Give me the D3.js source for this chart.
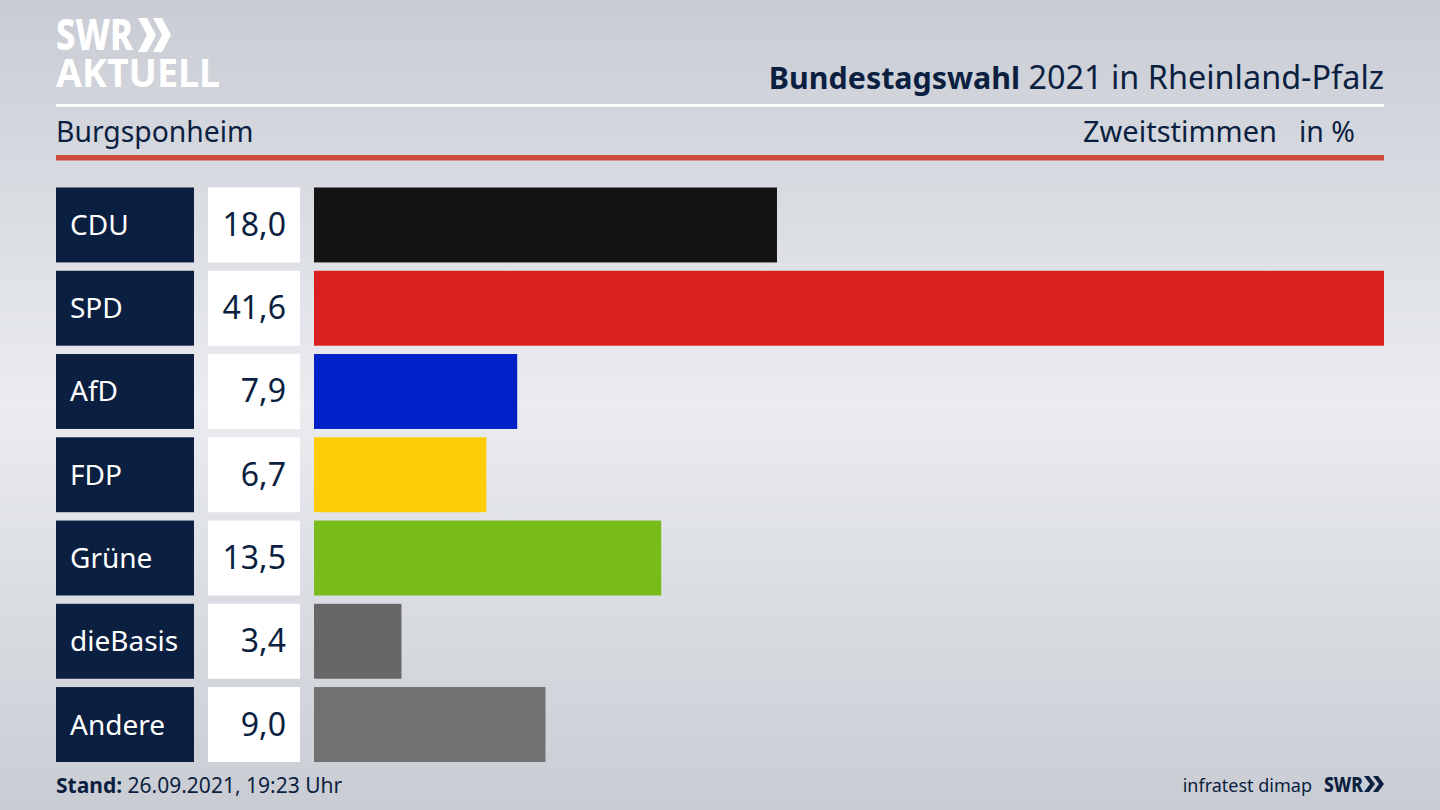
<!DOCTYPE html>
<html><head><meta charset="utf-8">
<script src="https://cdn.jsdelivr.net/npm/d3@7/dist/d3.min.js"></script>
<style>html,body{margin:0;padding:0;background:#dfe1e6;overflow:hidden}text{font-family:"Noto Sans","Open Sans",sans-serif}</style>
</head><body><svg id="c" width="1440" height="810"></svg>
<script>
const categories=["CDU","SPD","AfD","FDP","Grüne","dieBasis","Andere"];
const values=[18.0,41.6,7.9,6.7,13.5,3.4,9.0];
const colors=["#141414","#d9201f","#0021c8","#ffcc08","#78bc1b","#676767","#717172"];
const navy="#0b1f41";
const fmt=v=>v.toFixed(1).replace(".",",");
const svg=d3.select("#c");
const defs=svg.append("defs");
const g=defs.append("linearGradient").attr("id","bg").attr("x1",0).attr("y1",0).attr("x2",0).attr("y2",1);
[[0,"#c9ccd4"],[0.5,"#eaecf0"],[1,"#c9ccd3"]].forEach(s=>g.append("stop").attr("offset",s[0]).attr("stop-color",s[1]));
svg.append("rect").attr("width",1440).attr("height",810).attr("fill","url(#bg)");
const x=d3.scaleLinear().domain([0,41.6]).range([314,1384]);
const y=d3.scaleBand().domain(categories).range([187.5,762]).paddingInner(0.1).paddingOuter(0);
const row=svg.selectAll("g.row").data(categories).join("g").attr("class","row");
row.append("rect").attr("x",56).attr("width",138).attr("y",d=>y(d)).attr("height",y.bandwidth()).attr("fill",navy);
row.append("rect").attr("x",208).attr("width",92).attr("y",d=>y(d)).attr("height",y.bandwidth()).attr("fill","#fff");
row.append("rect").attr("x",x(0)).attr("y",d=>y(d)).attr("height",y.bandwidth()).attr("width",(d,i)=>x(values[i])-x(0)).attr("fill",(d,i)=>colors[i]);
row.append("text").attr("x",70).attr("y",d=>y(d)+y.bandwidth()/2+10).attr("font-size",28).attr("fill","#fff").text(d=>d);
row.append("text").attr("x",286).attr("y",d=>y(d)+y.bandwidth()/2+11).attr("text-anchor","end").attr("font-size",32).attr("fill",navy).text((d,i)=>fmt(values[i]));
svg.append("rect").attr("x",56).attr("y",104).attr("width",1328).attr("height",3).attr("fill","#fff");
svg.append("rect").attr("x",56).attr("y",155).attr("width",1328).attr("height",5.5).attr("fill","#cf4b3c");
const title=svg.append("text").attr("x",1384).attr("y",89).attr("text-anchor","end").attr("fill",navy);
title.append("tspan").attr("font-weight",700).attr("font-size",30.4).text("Bundestagswahl");
title.append("tspan").attr("font-size",32.4).text(" 2021 in Rheinland-Pfalz");
svg.append("text").attr("x",56).attr("y",142).attr("font-size",28.3).attr("fill",navy).text("Burgsponheim");
svg.append("text").attr("x",1277).attr("y",142).attr("text-anchor","end").attr("font-size",29).attr("fill",navy).text("Zweitstimmen");
svg.append("text").attr("x",1355).attr("y",142).attr("text-anchor","end").attr("font-size",28.5).attr("fill",navy).text("in %");
const st=svg.append("text").attr("x",56).attr("y",793).attr("font-size",21).attr("fill",navy);
st.append("tspan").attr("font-weight",700).text("Stand:");
st.append("tspan").text(" 26.09.2021, 19:23 Uhr");
svg.append("text").attr("x",1312).attr("y",792).attr("text-anchor","end").attr("font-size",18).attr("fill",navy).text("infratest dimap");
function chevron(cx,top,w,h,t,fill){
  const p=d3.path();
  p.moveTo(cx,top);p.lineTo(cx+t,top);p.lineTo(cx+w,top+h/2);p.lineTo(cx+t,top+h);p.lineTo(cx,top+h);p.lineTo(cx+w-t,top+h/2);p.closePath();
  svg.append("path").attr("d",p.toString()).attr("fill",fill);
}
svg.append("text").attr("x",1324).attr("y",792).attr("font-size",21).attr("font-weight",800).attr("fill",navy).attr("textLength",39).attr("lengthAdjust","spacingAndGlyphs").text("SWR");
chevron(1364,776,11,16,5,navy);chevron(1373,776,11,16,5,navy);
svg.append("text").attr("x",56).attr("y",50).attr("font-size",42).attr("font-weight",800).attr("fill","#fff").attr("textLength",77).attr("lengthAdjust","spacingAndGlyphs").text("SWR");
chevron(138,18,18,34,9,"#fff");chevron(153,18,18,34,9,"#fff");
svg.append("text").attr("x",56).attr("y",87).attr("font-size",40).attr("font-weight",700).attr("fill","#fff").attr("textLength",164).attr("lengthAdjust","spacingAndGlyphs").text("AKTUELL");
</script></body></html>
